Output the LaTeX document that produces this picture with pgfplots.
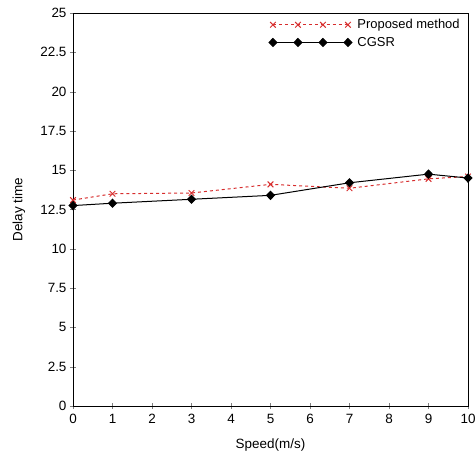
\documentclass[border=0pt]{standalone}
\usepackage{pgfplots}
\pgfplotsset{compat=1.18}
\usepackage{fontspec}
\setmainfont{Liberation Sans}
\definecolor{propred}{RGB}{215,45,45}
\pgfplotsset{
  multimark/.style={legend image code/.code={%
    \draw[mark repeat=1,##1] plot coordinates {(0bp,0) (25bp,0) (50bp,0) (75bp,0)};
    \path (82bp,0);}},
}
\begin{document}
\begin{tikzpicture}
\begin{axis}[
  name=ax,
  scale only axis,
  width=395bp, height=393bp,
  xmin=0, xmax=10, ymin=0, ymax=25,
  xtick={0,1,...,10},
  ytick={0,2.5,...,25},
  yticklabel style={/pgf/number format/.cd, fixed, precision=1},
  xticklabel style={yshift=-2bp},
  tick pos=left,
  tick align=center,
  major tick length=6bp,
  axis line style={line width=0.9bp},
  xlabel={Speed(m/s)},
  ylabel={Delay time},
  xlabel style={at={(axis description cs:0.5,-0.099)}, anchor=center},
  ylabel style={at={(axis description cs:-0.137,0.5)}, anchor=center},
  font=\fontsize{13.5}{14}\selectfont,
  /pgf/number format/assume math mode=true,
  legend style={draw=none, fill=none, at={(axis description cs:0.987,0.992)}, anchor=north east,
    font=\fontsize{13}{14}\selectfont, row sep=3bp, inner sep=1bp},
  legend cell align=left,
]
\addplot[propred, dashed, line width=1bp, mark=x, mark size=4bp, mark options={solid}, multimark]
  coordinates {(0,13.1) (1,13.5) (3,13.55) (5,14.1) (7,13.85) (9,14.45) (10,14.6)};
\addlegendentry{Proposed method}
\addplot[black, line width=1bp, mark=diamond*, mark size=4bp, mark options={xscale=1.3}, multimark]
  coordinates {(0,12.75) (1,12.9) (3,13.15) (5,13.4) (7,14.2) (9,14.75) (10,14.5)};
\addlegendentry{CGSR}
\end{axis}
\pgfresetboundingbox
\path ([shift={(-73bp,-54bp)}]ax.south west) rectangle ([shift={(8bp,13bp)}]ax.north east);
\end{tikzpicture}
\end{document}
